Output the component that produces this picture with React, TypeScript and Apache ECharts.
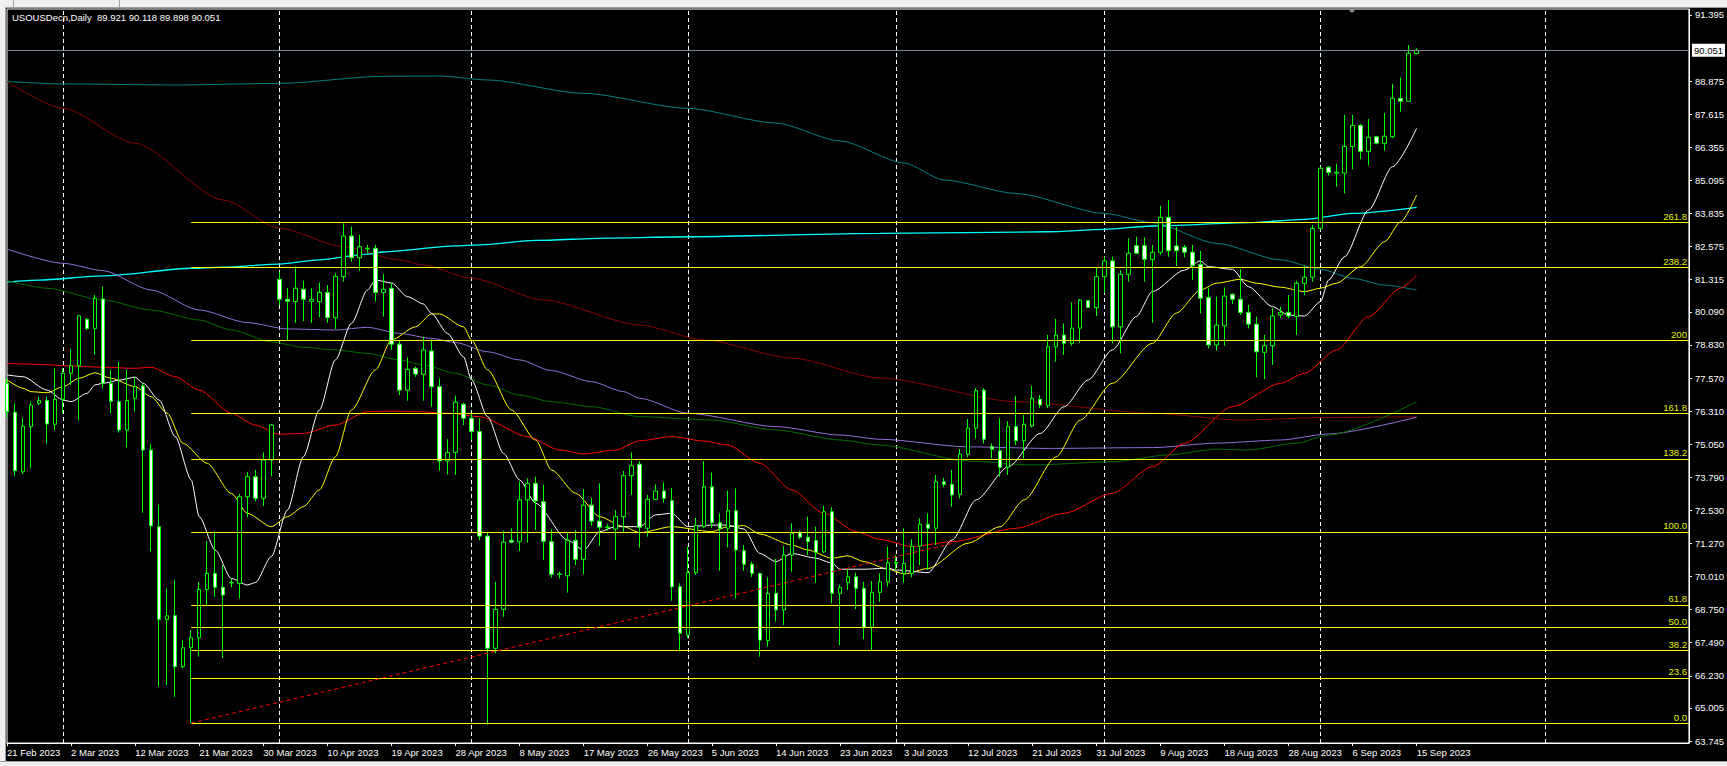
import React, { useEffect, useRef } from 'react';
import * as echarts from 'echarts';

const symbolTitle = 'USOUSDecn,Daily';
const xTickLabels = ['21 Feb 2023', '2 Mar 2023', '12 Mar 2023', '21 Mar 2023', '30 Mar 2023', '10 Apr 2023', '19 Apr 2023', '28 Apr 2023', '8 May 2023', '17 May 2023', '26 May 2023', '5 Jun 2023', '14 Jun 2023', '23 Jun 2023', '3 Jul 2023', '12 Jul 2023', '21 Jul 2023', '31 Jul 2023', '9 Aug 2023', '18 Aug 2023', '28 Aug 2023', '6 Sep 2023', '15 Sep 2023'];
const yTickLabels = ['63.745', '65.005', '66.230', '67.490', '68.750', '70.010', '71.270', '72.530', '73.790', '75.050', '76.310', '77.570', '78.830', '80.090', '81.315', '82.575', '83.835', '85.095', '86.355', '87.615', '88.875', '91.395'];

const opens = [77.37, 76.27, 74.00, 75.72, 76.61, 76.71, 75.81, 76.76, 77.75, 78.04, 79.81, 79.46, 80.58, 77.37, 76.67, 75.59, 76.80, 77.27, 74.83, 71.91, 68.38, 68.52, 66.58, 67.30, 67.68, 69.52, 70.13, 69.60, 69.77, 69.75, 73.05, 73.81, 72.99, 74.45, 81.33, 80.57, 80.48, 80.95, 80.49, 80.48, 80.83, 79.87, 81.43, 82.98, 82.15, 82.49, 82.51, 80.83, 80.99, 78.86, 77.11, 77.94, 77.71, 78.60, 77.24, 74.41, 74.74, 76.57, 76.04, 75.53, 71.55, 67.28, 68.76, 71.39, 71.34, 72.93, 73.56, 72.86, 71.34, 70.09, 70.04, 71.39, 70.67, 72.73, 72.12, 71.88, 71.82, 72.29, 73.85, 74.29, 71.85, 72.95, 73.27, 72.90, 69.62, 67.78, 70.16, 71.91, 73.43, 72.06, 71.85, 72.52, 71.00, 70.48, 70.13, 67.57, 69.37, 68.74, 70.83, 71.68, 71.51, 71.38, 70.95, 72.48, 69.37, 69.78, 70.00, 69.56, 68.08, 69.41, 69.81, 70.51, 70.13, 70.13, 71.17, 72.00, 71.85, 73.62, 73.52, 73.14, 74.67, 75.66, 77.11, 74.96, 74.80, 74.17, 75.72, 75.18, 75.74, 76.76, 76.52, 78.76, 79.21, 78.89, 79.47, 80.52, 80.25, 81.43, 82.03, 79.52, 81.52, 82.61, 82.61, 82.09, 82.36, 83.69, 82.60, 82.55, 82.36, 81.90, 80.64, 78.83, 79.56, 80.76, 80.57, 80.07, 79.62, 78.55, 78.80, 79.97, 80.07, 79.91, 81.18, 81.41, 83.27, 85.60, 85.37, 85.37, 86.39, 87.19, 86.20, 86.76, 86.51, 86.76, 88.22, 88.11, 89.921];
const highs = [77.57, 76.61, 76.06, 76.67, 76.86, 76.86, 77.94, 77.94, 78.68, 79.97, 79.85, 80.73, 81.05, 77.88, 78.19, 77.88, 77.62, 77.37, 75.06, 72.74, 69.56, 69.88, 67.59, 67.97, 69.81, 71.36, 71.74, 70.45, 69.94, 73.15, 74.00, 74.07, 74.74, 75.82, 81.62, 80.99, 81.84, 81.28, 80.99, 81.20, 81.11, 81.56, 83.46, 83.33, 83.02, 82.64, 82.64, 81.53, 81.20, 79.02, 78.36, 78.00, 79.14, 79.05, 77.56, 75.24, 76.90, 76.63, 76.24, 76.04, 71.71, 69.81, 71.76, 71.85, 73.62, 73.75, 73.81, 73.50, 71.81, 70.20, 71.68, 71.78, 73.34, 73.01, 73.56, 72.00, 72.54, 74.03, 74.74, 74.41, 73.12, 73.52, 73.60, 73.39, 69.75, 71.15, 72.25, 74.41, 73.97, 72.42, 73.28, 73.37, 71.21, 70.58, 70.15, 69.98, 70.68, 71.18, 72.04, 71.76, 72.29, 71.91, 72.71, 72.65, 69.69, 70.29, 70.15, 69.81, 69.84, 70.13, 71.15, 70.83, 71.85, 71.43, 72.23, 72.42, 73.88, 73.77, 74.07, 74.87, 76.01, 77.18, 77.18, 75.08, 76.04, 75.93, 76.89, 76.16, 77.27, 76.92, 79.21, 79.82, 79.65, 80.45, 80.58, 80.54, 81.79, 82.19, 82.19, 81.68, 82.89, 82.95, 82.93, 82.64, 84.13, 84.35, 83.33, 82.64, 82.64, 82.41, 81.02, 80.67, 81.02, 80.80, 81.72, 80.35, 79.91, 79.21, 80.23, 80.29, 80.73, 81.28, 81.85, 83.40, 85.62, 85.64, 85.72, 87.59, 87.59, 87.24, 87.43, 86.79, 87.66, 88.77, 89.02, 90.25, 90.118];
const lows = [76.05, 73.84, 73.92, 74.13, 76.54, 75.08, 75.59, 76.23, 77.31, 75.95, 79.40, 78.45, 77.18, 76.23, 75.49, 74.93, 76.29, 72.44, 70.96, 65.82, 65.88, 65.43, 66.52, 64.43, 66.96, 68.93, 69.24, 66.90, 69.60, 69.18, 72.27, 72.86, 72.70, 73.84, 80.35, 79.02, 79.67, 79.74, 79.67, 79.89, 79.67, 79.44, 81.24, 82.00, 81.66, 82.34, 80.48, 79.91, 78.64, 76.92, 76.71, 77.62, 76.71, 76.48, 74.04, 73.90, 73.88, 75.78, 75.21, 71.40, 64.36, 67.09, 68.48, 71.28, 70.98, 71.30, 71.78, 70.64, 69.97, 69.94, 69.40, 70.45, 70.10, 71.94, 71.18, 71.76, 70.64, 71.71, 73.12, 71.11, 71.53, 72.93, 72.82, 69.09, 67.15, 67.66, 70.07, 71.85, 71.85, 70.23, 71.12, 69.18, 70.23, 70.00, 66.96, 67.34, 68.29, 68.17, 70.20, 71.43, 70.83, 69.77, 70.90, 68.99, 67.40, 69.50, 68.77, 67.62, 67.19, 69.05, 69.62, 70.26, 69.77, 69.98, 70.45, 70.26, 71.21, 73.41, 72.67, 72.99, 74.55, 75.27, 75.08, 74.51, 73.81, 73.88, 75.02, 74.51, 75.69, 76.42, 76.42, 78.19, 78.45, 78.80, 78.92, 80.25, 79.93, 80.82, 78.89, 78.51, 81.24, 82.29, 81.24, 79.68, 82.26, 82.19, 81.84, 82.17, 81.30, 80.03, 78.70, 78.61, 78.80, 80.39, 79.97, 79.46, 77.60, 77.53, 78.07, 79.87, 79.85, 79.21, 80.73, 81.24, 83.21, 85.28, 84.86, 84.60, 85.52, 85.90, 85.66, 86.47, 86.23, 86.70, 87.71, 88.11, 89.898];
const closes = [76.29, 74.04, 75.74, 76.54, 76.71, 75.82, 76.76, 77.75, 78.04, 79.94, 79.46, 80.61, 77.37, 76.69, 75.59, 76.71, 77.24, 74.83, 71.94, 68.38, 68.52, 66.58, 67.30, 67.68, 69.52, 70.13, 69.60, 69.31, 69.79, 73.05, 73.81, 72.99, 74.45, 75.78, 80.57, 80.49, 80.99, 80.57, 80.57, 80.83, 79.87, 81.44, 82.98, 82.15, 82.57, 82.51, 80.83, 80.95, 78.86, 77.11, 77.90, 77.72, 78.64, 77.24, 74.41, 74.73, 76.65, 76.04, 75.53, 71.55, 67.28, 68.76, 71.32, 71.32, 72.93, 73.56, 72.89, 71.35, 70.10, 70.11, 71.39, 70.67, 72.73, 72.12, 71.89, 71.90, 72.29, 73.85, 74.23, 71.89, 72.95, 73.27, 72.99, 69.62, 67.85, 70.16, 71.95, 73.43, 72.06, 71.85, 72.52, 71.02, 70.48, 70.13, 67.59, 69.37, 68.74, 70.83, 71.66, 71.51, 71.34, 70.93, 72.48, 69.37, 69.60, 70.00, 69.56, 68.08, 69.41, 69.81, 70.54, 70.55, 70.51, 71.17, 72.00, 71.85, 73.62, 73.52, 73.12, 74.67, 75.66, 77.09, 75.24, 74.86, 74.17, 75.72, 75.18, 75.81, 76.80, 76.54, 78.76, 79.21, 78.89, 79.47, 80.54, 80.26, 81.43, 82.03, 79.52, 81.52, 82.32, 82.32, 82.09, 82.36, 83.69, 82.42, 82.42, 82.36, 81.85, 80.61, 78.83, 79.59, 80.69, 80.57, 80.07, 79.62, 78.57, 78.80, 79.93, 80.07, 79.93, 81.18, 81.41, 83.27, 85.56, 85.40, 85.41, 86.39, 87.19, 86.20, 86.74, 86.51, 86.78, 88.22, 88.11, 89.94, 90.051];

// moving averages: [bar index, value]
const maWhite = [[0, 77.69], [2, 77.62], [5, 77.11], [7, 76.73], [8, 76.67], [10, 76.99], [11, 77.31], [12, 77.37], [14, 77.49], [16, 77.60], [17, 77.37], [19, 76.73], [21, 75.34], [23, 73.69], [24, 72.29], [26, 71.02], [28, 69.94], [30, 69.69], [31, 69.78], [33, 70.77], [35, 72.54], [37, 74.57], [39, 76.35], [41, 78.26], [43, 79.65], [45, 80.92], [46, 81.30], [48, 81.19], [50, 80.67], [52, 80.39], [53, 80.03], [55, 79.27], [57, 78.38], [58, 77.50], [60, 76.10], [62, 74.70], [64, 73.69], [66, 72.80], [70, 71.40], [72, 71.02], [74, 71.72], [76, 71.91], [79, 71.91], [81, 72.36], [83, 72.42], [85, 71.91], [88, 71.97], [90, 71.97], [92, 71.82], [94, 70.89], [96, 70.58], [98, 70.89], [101, 70.71], [103, 70.52], [104, 70.29], [107, 70.29], [110, 70.33], [111, 70.26], [115, 70.16], [118, 71.40], [121, 72.93], [125, 74.19], [129, 75.46], [132, 76.48], [135, 77.50], [138, 78.64], [141, 79.91], [143, 80.86], [147, 81.68], [149, 82.03], [150, 81.81], [153, 81.71], [155, 81.05], [158, 80.29], [160, 79.97], [162, 79.93], [164, 80.48], [165, 81.30], [167, 82.19], [170, 83.97], [173, 85.62], [176, 87.08]];
const maYellow = [[0, 77.50], [2, 77.18], [3, 77.05], [5, 77.01], [7, 77.24], [9, 77.56], [11, 77.77], [13, 77.56], [16, 77.24], [18, 76.86], [20, 76.23], [22, 75.08], [25, 74.32], [28, 73.18], [30, 72.42], [33, 71.91], [35, 72.29], [37, 72.67], [39, 73.31], [41, 74.57], [43, 76.35], [46, 77.88], [48, 79.02], [51, 79.52], [53, 80.01], [54, 80.01], [57, 79.52], [58, 79.02], [60, 77.88], [63, 76.35], [66, 75.21], [68, 74.07], [71, 73.18], [74, 72.29], [77, 71.91], [79, 71.68], [83, 71.91], [88, 71.72], [90, 71.91], [92, 71.95], [94, 71.63], [98, 71.21], [100, 71.02], [103, 70.71], [105, 70.80], [107, 70.58], [110, 70.29], [112, 70.11], [115, 70.32], [120, 71.28], [124, 71.91], [127, 72.93], [131, 74.57], [134, 75.97], [138, 77.37], [143, 78.89], [146, 80.04], [149, 80.92], [151, 81.18], [154, 81.33], [156, 81.18], [159, 81.03], [162, 80.86], [164, 80.99], [166, 81.18], [169, 81.81], [172, 82.76], [174, 83.52], [176, 84.54]];
const maRed = [[0, 78.13], [4, 78.09], [8, 78.03], [12, 77.98], [16, 77.94], [18, 77.98], [21, 77.62], [24, 77.11], [28, 76.23], [31, 75.78], [34, 75.43], [37, 75.46], [41, 75.78], [45, 76.29], [48, 76.31], [51, 76.29], [55, 76.23], [59, 76.10], [65, 75.34], [69, 74.83], [72, 74.68], [76, 74.83], [79, 75.18], [83, 75.34], [87, 75.17], [90, 75.02], [94, 74.32], [98, 73.31], [102, 72.42], [106, 71.72], [109, 71.43], [113, 71.15], [118, 71.34], [126, 71.85], [132, 72.42], [138, 73.18], [143, 74.19], [147, 75.08], [153, 76.48], [159, 77.37], [162, 77.75], [166, 78.64], [170, 79.91], [174, 80.99], [176, 81.49]];
const maMaroon = [[0, 88.86], [7, 87.84], [16, 86.51], [27, 84.35], [34, 83.28], [42, 82.57], [49, 82.07], [52, 81.87], [58, 81.37], [67, 80.54], [79, 79.59], [87, 79.02], [98, 78.33], [109, 77.57], [126, 76.67], [143, 76.23], [154, 75.97], [165, 76.07], [176, 76.09]];
const maTeal = [[0, 88.86], [7, 88.77], [21, 88.73], [34, 88.79], [47, 89.06], [54, 89.07], [60, 88.92], [72, 88.41], [85, 87.84], [96, 87.28], [104, 86.60], [112, 85.76], [117, 85.11], [126, 84.60], [137, 83.84], [143, 83.49], [151, 82.70], [159, 82.07], [164, 81.71], [168, 81.37], [172, 81.11], [176, 80.92]];
const maCyan = [[0, 81.23], [4, 81.30], [12, 81.46], [23, 81.75], [27, 81.79], [34, 81.91], [39, 82.07], [45, 82.29], [47, 82.37], [56, 82.60], [59, 82.64], [66, 82.81], [75, 82.90], [85, 82.95], [109, 83.08], [130, 83.14], [137, 83.23], [143, 83.36], [155, 83.49], [162, 83.61], [168, 83.84], [176, 84.07]];
const maPurple = [[0, 82.48], [7, 81.94], [12, 81.66], [18, 80.92], [24, 80.16], [30, 79.68], [35, 79.44], [41, 79.40], [45, 79.50], [49, 79.27], [53, 79.08], [56, 78.92], [60, 78.57], [64, 78.26], [68, 77.85], [73, 77.43], [77, 77.05], [79, 76.80], [85, 76.23], [96, 75.72], [104, 75.40], [109, 75.24], [120, 74.95], [130, 74.89], [143, 74.92], [151, 75.09], [159, 75.21], [165, 75.44], [176, 76.08]];
const maGreen = [[0, 81.28], [5, 80.99], [12, 80.54], [18, 80.16], [24, 79.78], [28, 79.40], [33, 78.95], [37, 78.74], [41, 78.64], [45, 78.51], [49, 78.26], [52, 78.07], [56, 77.75], [60, 77.31], [64, 76.92], [68, 76.67], [73, 76.48], [79, 76.10], [88, 75.97], [96, 75.59], [104, 75.21], [109, 75.02], [120, 74.41], [128, 74.26], [138, 74.38], [145, 74.64], [151, 74.86], [155, 74.83], [161, 75.09], [165, 75.40], [176, 76.66]];

const fibLabels = ['0.0', '23.6', '38.2', '50.0', '61.8', '100.0', '138.2', '161.8', '200', '238.2', '261.8'];
const fibValues = [64.43, 66.15, 67.21, 68.07, 68.93, 71.71, 74.49, 76.21, 78.99, 81.77, 83.49];
const fibStartBar = 23;
const trendLine = [[23, 64.43], [118, 71.27]];
const monthSeparators = [7, 34, 58, 85, 111, 137, 164, 192];
const totalSlots = 211;

const FONT = 'Liberation Sans, Arial, sans-serif';

export default function App() {
  const ref = useRef<HTMLDivElement>(null);
  useEffect(() => {
    const chart = echarts.init(ref.current as HTMLDivElement, null, { renderer: 'svg' });
    const categories = Array.from({ length: totalSlots }, (_, i) => String(i));
    const candleData = opens.map((o, i) => [o, closes[i], lows[i], highs[i]]);
    const last = opens.length - 1;
    const yTickValues = yTickLabels.map((s) => parseFloat(s));

    const ma = (name: string, data: number[][], color: string, width = 1, extra: any = {}) => ({
      type: 'line',
      name,
      data,
      symbol: 'none',
      smooth: 0.25,
      smoothMonotone: 'x',
      silent: true,
      z: 2,
      lineStyle: { color, width },
      ...extra,
    });

    const fibMarks = fibValues.map((v, k) => [
      {
        coord: [fibStartBar, v],
        lineStyle: { color: '#ffff00', width: 1, type: 'solid' },
        label: {
          show: true,
          position: 'insideEndTop',
          formatter: fibLabels[k],
          color: '#e4f200',
          fontSize: 9.5,
          fontFamily: FONT,
          distance: [2, 1],
        },
      },
      { coord: [totalSlots - 1, v] },
    ]);

    const option: any = {
      animation: false,
      backgroundColor: '#000000',
      grid: {
        left: 7,
        top: 9,
        right: 36,
        bottom: 23,
        show: true,
        borderColor: '#ffffff',
        borderWidth: 1,
        backgroundColor: 'transparent',
      },
      xAxis: {
        type: 'category',
        data: categories,
        boundaryGap: false,
        axisLine: { show: true, lineStyle: { color: '#ffffff' } },
        axisTick: {
          show: true,
          length: 3,
          lineStyle: { color: '#ffffff' },
          interval: (i: number) => i % 8 === 0 && i / 8 < xTickLabels.length,
        },
        axisLabel: {
          show: true,
          interval: (i: number) => i % 8 === 0 && i / 8 < xTickLabels.length,
          formatter: (val: string) => xTickLabels[Number(val) / 8] ?? '',
          color: '#ffffff',
          fontSize: 9.5,
          fontFamily: FONT,
          align: 'left',
          margin: 4,
        },
        splitLine: { show: false },
      },
      yAxis: {
        type: 'value',
        position: 'right',
        min: 63.672,
        max: 91.623,
        scale: true,
        axisLine: { show: true, lineStyle: { color: '#ffffff' } },
        axisTick: { show: true, length: 3, lineStyle: { color: '#ffffff' }, customValues: yTickValues },
        axisLabel: {
          show: true,
          customValues: yTickValues,
          formatter: (v: number) => {
            let best = 0;
            yTickValues.forEach((t, k) => {
              if (Math.abs(t - v) < Math.abs(yTickValues[best] - v)) best = k;
            });
            return yTickLabels[best];
          },
          color: '#ffffff',
          fontSize: 9.5,
          fontFamily: FONT,
          margin: 6,
        },
        splitLine: { show: false },
      },
      graphic: [
        { type: 'rect', shape: { x: 0, y: 0, width: 1727, height: 7 }, style: { fill: '#f0f0f0' }, silent: true },
        { type: 'line', shape: { x1: 0, y1: 7.5, x2: 1727, y2: 7.5 }, style: { stroke: '#a0a0a0', lineWidth: 1 }, silent: true },
        { type: 'line', shape: { x1: 13.5, y1: 0, x2: 13.5, y2: 7 }, style: { stroke: '#a0a0a0', lineWidth: 1 }, silent: true },
        { type: 'line', shape: { x1: 119.5, y1: 0, x2: 119.5, y2: 7 }, style: { stroke: '#a0a0a0', lineWidth: 1 }, silent: true },
        { type: 'rect', shape: { x: 0, y: 0, width: 5, height: 766 }, style: { fill: '#f0f0f0' }, silent: true },
        { type: 'line', shape: { x1: 5.5, y1: 7, x2: 5.5, y2: 766 }, style: { stroke: '#a0a0a0', lineWidth: 1 }, silent: true },
        { type: 'rect', shape: { x: 0, y: 762, width: 1727, height: 4 }, style: { fill: '#f0f0f0' }, silent: true },
        { type: 'line', shape: { x1: 0, y1: 761.5, x2: 1727, y2: 761.5 }, style: { stroke: '#a0a0a0', lineWidth: 1 }, silent: true },
        { type: 'polygon', shape: { points: [[1348, 9], [1356, 9], [1352, 13]] }, style: { fill: '#909090' }, silent: true },
        {
          type: 'text',
          x: 12,
          y: 12,
          silent: true,
          style: {
            text: `${symbolTitle}  ${opens[last].toFixed(3)} ${highs[last].toFixed(3)} ${lows[last].toFixed(3)} ${closes[last].toFixed(3)}`,
            fill: '#ffffff',
            fontSize: 9.5,
            fontFamily: FONT,
          },
        },
      ],
      series: [
        ma('teal', maTeal, '#008080'),
        ma('maroon', maMaroon, '#8b0000'),
        ma('cyan', maCyan, '#00ffff', 1.3),
        ma('purple', maPurple, '#9370db'),
        ma('green', maGreen, '#007000', 1, {
          markLine: {
            silent: true,
            symbol: ['none', 'none'],
            z: 1,
            label: { show: false },
            lineStyle: { color: '#ffffff', width: 1, type: [4, 3] },
            data: monthSeparators.map((i) => ({ xAxis: i })),
          },
        }),
        ma('red', maRed, '#ff0000'),
        ma('yellow', maYellow, '#ffff00'),
        ma('white', maWhite, '#ffffff'),
        {
          type: 'candlestick',
          data: candleData,
          barWidth: 4,
          z: 3,
          silent: true,
          itemStyle: {
            color: '#000000',
            color0: '#ffffff',
            borderColor: '#00ff00',
            borderColor0: '#00ff00',
            borderWidth: 1,
          },
          markLine: {
            silent: true,
            symbol: ['none', 'none'],
            data: [
              ...fibMarks,
              [
                {
                  coord: trendLine[0],
                  lineStyle: { color: '#ff0000', width: 1, type: [4, 3] },
                  label: { show: false },
                },
                { coord: trendLine[1] },
              ],
              {
                yAxis: closes[last],
                lineStyle: { color: '#778899', width: 1, type: 'solid' },
                label: {
                  show: true,
                  position: 'end',
                  formatter: closes[last].toFixed(3),
                  backgroundColor: '#ffffff',
                  color: '#000000',
                  padding: [2, 2, 1, 2],
                  fontSize: 9.5,
                  fontFamily: FONT,
                  distance: 3,
                },
              },
            ],
          },
        },
      ],
    };
    chart.setOption(option);
    return () => chart.dispose();
  }, []);
  return <div ref={ref} style={{ position: 'fixed', left: 0, top: 0, width: 1727, height: 766 }} />;
}
